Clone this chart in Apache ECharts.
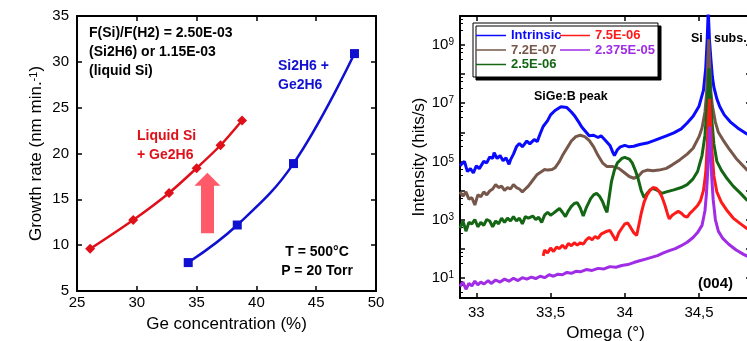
<!DOCTYPE html>
<html>
<head>
<meta charset="utf-8">
<script src="https://cdn.jsdelivr.net/npm/echarts@6/dist/echarts.min.js"></script>
<style>
	html, body { margin: 0; padding: 0; background: #fff; }
	#main { width: 747px; height: 341px; }
</style>
</head>
<body>
<div id="main"></div>
<script>
// left panel: growth rate vs Ge concentration
var liquidGe   = [26.1, 29.7, 32.7, 35.0, 37.0, 38.8];
var liquidRate = [9.6, 12.75, 15.7, 18.4, 20.9, 23.6];
var disilGe    = [34.3, 38.4, 43.1, 48.2];
var disilRate  = [8.1, 12.2, 18.9, 30.9];
var arrowGe    = 35.9;
var arrowFrom  = 11.3;
var arrowTo    = 17.2;

// right panel: XRD scans, [omega (deg), log10(intensity)]
var intrinsicScan = [
	[32.89,4.85],[32.92,5.0],[32.94,4.65],[32.96,4.75],[32.98,4.6],[33.00,4.85],[33.02,4.75],[33.05,5.0],
	[33.07,4.95],[33.09,5.15],[33.11,5.1],[33.12,5.3],[33.14,5.1],[33.16,5.2],[33.18,5.02],[33.20,5.12],
	[33.22,4.9],[33.23,5.05],[33.25,5.25],[33.27,5.5],[33.29,5.62],[33.31,5.5],[33.34,5.7],[33.36,5.6],
	[33.39,5.75],[33.41,5.68],[33.43,5.95],[33.45,6.2],[33.48,6.4],[33.50,6.6],[33.53,6.75],[33.57,6.88],
	[33.61,6.85],[33.64,6.7],[33.66,6.58],[33.69,6.35],[33.71,6.18],[33.74,6.0],[33.76,5.88],[33.79,5.9],
	[33.82,5.82],[33.84,5.88],[33.87,5.72],[33.90,5.55],[33.92,5.3],[33.93,5.2],[33.95,5.4],[33.97,5.5],
	[34.00,5.55],[34.03,5.5],[34.06,5.52],[34.10,5.58],[34.15,5.63],[34.20,5.72],[34.24,5.8],[34.28,5.88],
	[34.33,5.98],[34.38,6.12],[34.42,6.32],[34.46,6.55],[34.50,6.9],[34.53,7.45],[34.545,8.2],[34.555,9.2],
	[34.562,10.2],[34.57,9.2],[34.58,8.5],[34.59,7.9],[34.60,7.55],[34.62,7.15],[34.64,6.88],[34.67,6.6],
	[34.71,6.36],[34.76,6.15],[34.82,5.95],[34.85,5.9]
];
var b72Scan = [
	[32.89,3.95],[32.91,3.8],[32.93,3.95],[32.95,3.7],[32.97,3.75],[32.99,3.5],[33.01,3.85],[33.03,3.78],
	[33.05,3.95],[33.07,3.85],[33.09,3.98],[33.11,4.05],[33.13,4.2],[33.15,4.1],[33.17,4.15],[33.19,4.0],
	[33.21,4.1],[33.23,4.05],[33.25,4.2],[33.27,4.1],[33.29,4.05],[33.31,3.95],[33.33,4.05],[33.35,4.15],
	[33.38,4.35],[33.41,4.55],[33.44,4.65],[33.46,4.72],[33.48,4.7],[33.51,4.72],[33.53,4.78],[33.56,5.0],
	[33.58,5.2],[33.61,5.45],[33.64,5.7],[33.67,5.85],[33.70,5.9],[33.73,5.85],[33.76,5.72],[33.79,5.5],
	[33.82,5.2],[33.85,4.95],[33.88,4.82],[33.92,4.82],[33.96,4.76],[34.00,4.6],[34.03,4.48],[34.06,4.42],
	[34.09,4.48],[34.12,4.65],[34.15,4.7],[34.19,4.68],[34.23,4.7],[34.28,4.76],[34.32,4.88],[34.37,5.05],
	[34.42,5.25],[34.46,5.45],[34.50,5.85],[34.52,6.15],[34.54,6.7],[34.55,7.3],[34.558,8.3],[34.565,9.2],
	[34.572,8.3],[34.58,7.4],[34.59,6.9],[34.61,6.35],[34.63,6.0],[34.66,5.75],[34.70,5.45],[34.75,5.1],
	[34.82,4.72],[34.85,4.6]
];
var b25Scan = [
	[32.89,2.7],[32.91,2.95],[32.93,2.6],[32.95,2.9],[32.97,2.85],[32.99,3.0],[33.01,2.75],[33.03,2.9],
	[33.05,2.8],[33.07,3.0],[33.09,2.95],[33.11,2.75],[33.13,2.95],[33.15,2.85],[33.17,3.05],[33.19,2.9],
	[33.21,3.05],[33.23,2.95],[33.25,3.1],[33.27,2.95],[33.29,3.05],[33.31,2.85],[33.33,3.1],[33.35,3.05],
	[33.38,3.12],[33.40,3.0],[33.42,3.08],[33.44,2.9],[33.46,3.15],[33.48,3.25],[33.50,3.15],[33.52,3.22],
	[33.54,3.3],[33.56,3.38],[33.58,3.25],[33.60,3.1],[33.62,3.3],[33.64,3.45],[33.66,3.55],[33.68,3.58],
	[33.70,3.4],[33.72,3.12],[33.74,3.4],[33.77,3.72],[33.79,3.85],[33.81,3.9],[33.83,3.8],[33.85,3.62],
	[33.87,3.35],[33.88,3.25],[33.89,3.6],[33.91,4.3],[33.93,4.7],[33.95,4.95],[33.98,5.1],[34.00,5.14],
	[34.03,5.08],[34.05,4.95],[34.07,4.7],[34.09,4.4],[34.11,4.0],[34.13,3.75],[34.15,3.9],[34.17,4.02],
	[34.19,4.07],[34.22,4.0],[34.25,3.9],[34.28,3.95],[34.33,4.02],[34.38,4.1],[34.42,4.2],[34.46,4.4],
	[34.49,4.65],[34.52,5.2],[34.54,5.9],[34.55,6.6],[34.56,7.4],[34.568,8.2],[34.575,7.4],[34.585,6.5],
	[34.60,5.6],[34.62,5.0],[34.65,4.7],[34.69,4.4],[34.73,4.15],[34.78,3.9],[34.82,3.68],[34.85,3.6]
];
var b75Scan = [
	[33.45,1.75],[33.46,1.95],[33.48,1.85],[33.50,2.02],[33.52,1.9],[33.54,2.05],[33.56,2.0],[33.58,2.12],
	[33.60,2.0],[33.62,2.18],[33.64,2.1],[33.66,2.2],[33.68,2.12],[33.70,2.2],[33.72,2.15],[33.74,2.3],
	[33.76,2.38],[33.78,2.3],[33.80,2.42],[33.82,2.35],[33.84,2.5],[33.86,2.55],[33.88,2.6],[33.90,2.62],
	[33.92,2.45],[33.94,2.28],[33.96,2.55],[33.98,2.7],[34.00,2.85],[34.02,2.88],[34.04,2.72],[34.06,2.55],
	[34.08,2.45],[34.09,2.7],[34.11,3.2],[34.13,3.6],[34.15,3.85],[34.17,4.0],[34.19,4.1],[34.21,4.08],
	[34.23,3.98],[34.25,3.78],[34.27,3.5],[34.29,3.15],[34.30,3.02],[34.32,3.15],[34.34,3.22],[34.36,3.28],
	[34.38,3.22],[34.40,3.12],[34.42,3.08],[34.44,3.22],[34.46,3.32],[34.49,3.48],[34.51,3.65],[34.53,4.0],
	[34.545,4.6],[34.555,5.5],[34.563,6.5],[34.57,7.15],[34.577,6.4],[34.585,5.5],[34.60,4.5],[34.62,3.95],
	[34.65,3.6],[34.69,3.3],[34.73,3.05],[34.78,2.85],[34.82,2.7],[34.85,2.62]
];
var b2375Scan = [
	[32.89,0.7],[32.91,0.85],[32.93,0.6],[32.95,0.8],[32.97,0.72],[32.99,0.88],[33.01,0.75],[33.03,0.85],
	[33.05,0.78],[33.08,0.9],[33.10,0.8],[33.13,0.92],[33.16,0.85],[33.19,0.95],[33.22,0.88],[33.25,0.98],
	[33.28,0.9],[33.31,1.0],[33.34,0.95],[33.37,1.02],[33.40,0.97],[33.43,1.05],[33.46,1.0],[33.49,1.1],
	[33.52,1.05],[33.55,1.12],[33.58,1.1],[33.61,1.18],[33.64,1.15],[33.67,1.22],[33.70,1.2],[33.74,1.28],
	[33.78,1.25],[33.82,1.32],[33.86,1.3],[33.90,1.38],[33.94,1.36],[33.98,1.42],[34.02,1.45],[34.06,1.52],
	[34.10,1.58],[34.14,1.64],[34.18,1.7],[34.22,1.76],[34.26,1.85],[34.30,1.93],[34.34,2.0],[34.38,2.1],
	[34.42,2.22],[34.46,2.38],[34.49,2.55],[34.52,2.8],[34.54,3.3],[34.55,3.9],[34.56,4.8],[34.567,5.8],
	[34.572,6.2],[34.578,5.5],[34.585,4.5],[34.595,3.7],[34.61,3.0],[34.63,2.6],[34.66,2.35],[34.70,2.15],
	[34.75,1.95],[34.80,1.8],[34.85,1.68]
];
var scanNames  = ['Intrinsic', '7.2E-07', '2.5E-06', '7.5E-06', '2.375E-05'];
var scanColors = ['#0a0aff', '#76574a', '#146614', '#ff1a1a', '#a02ce6'];
var scans      = [intrinsicScan, b72Scan, b25Scan, b75Scan, b2375Scan];

var FONT = 'Liberation Sans, Arial, sans-serif';

function frame(o) {
	var a = {
		type: 'value',
		axisLine: { show: true, onZero: false, lineStyle: { color: '#000', width: 2 } },
		axisTick: { show: true, inside: true, length: 5, lineStyle: { color: '#000', width: 1.5 } },
		axisLabel: { color: '#000', fontSize: 15, fontFamily: FONT },
		splitLine: { show: false },
		nameTextStyle: { color: '#000', fontSize: 17, fontFamily: FONT }
	};
	for (var k in o) a[k] = o[k];
	return a;
}

function logLabel(v) {
	var n = Math.log10(v);
	var r = Math.round(n);
	if (Math.abs(n - r) > 1e-6 || r % 2 === 0) return '';
	return '{b|10}{s|' + r + '}';
}
var logRich = {
	b: { fontSize: 15, fontFamily: FONT, color: '#000' },
	s: { fontSize: 10, fontFamily: FONT, color: '#000', verticalAlign: 'top' }
};

var xrdSeries = scans.map(function (s, i) {
	return {
		name: scanNames[i], type: 'line', xAxisIndex: 2, yAxisIndex: 2,
		symbol: 'none', smooth: false,
		lineStyle: { color: scanColors[i], width: 3 },
		itemStyle: { color: scanColors[i] },
		data: s.map(function (p) { return [p[0], Math.pow(10, p[1])]; })
	};
});

var boldText = function (x, y, txt, size, color, align) {
	return {
		type: 'text', x: x, y: y, z: 10,
		style: {
			text: txt, fill: color, fontSize: size, fontWeight: 'bold', fontFamily: FONT,
			lineHeight: size + 5, align: align || 'left', verticalAlign: 'top'
		}
	};
};

function legendBlock(left, idx) {
	return {
		left: left, top: 29, padding: 0, orient: 'vertical', itemWidth: 30, itemHeight: 1.5, itemGap: 1.5,
		icon: 'rect', selectedMode: false,
		textStyle: { fontSize: 13, fontWeight: 'bold', fontFamily: FONT },
		data: idx.map(function (i) { return { name: scanNames[i], textStyle: { color: scanColors[i] } }; })
	};
}

var chart = echarts.init(document.getElementById('main'));
chart.setOption({
	animation: false,
	grid: [
		{ left: 77, right: 371, top: 16, bottom: 50, outerBoundsMode: 'none' },
		{ left: 460, right: -4, top: 16, bottom: 43, outerBoundsMode: 'none' }
	],
	xAxis: [
		frame({
			gridIndex: 0, min: 25, max: 50, interval: 5, name: 'Ge concentration (%)', nameLocation: 'middle', nameGap: 25,
			axisLabel: { color: '#000', fontSize: 15, fontFamily: FONT, margin: 4 }
		}),
		frame({ gridIndex: 0, position: 'top', min: 25, max: 50, interval: 5, axisLabel: { show: false } }),
		frame({
			gridIndex: 1, min: 32.89, max: 34.85, splitNumber: 4, name: 'Omega (°)', nameLocation: 'middle', nameGap: 25,
			axisLabel: { color: '#000', fontSize: 15, fontFamily: FONT, margin: 7, showMinLabel: false, showMaxLabel: false,
				formatter: function (v) { return String(v).replace('.', ','); } }
		}),
		frame({ gridIndex: 1, position: 'top', min: 32.89, max: 34.85, splitNumber: 4, axisLabel: { show: false } })
	],
	yAxis: [
		frame({
			gridIndex: 0, min: 5, max: 35, interval: 5, name: 'Growth rate (nm min.{s|-1})', nameLocation: 'middle', nameGap: 32,
			nameTextStyle: { color: '#000', fontSize: 17, fontFamily: FONT, rich: { s: { fontSize: 11, fontFamily: FONT, color: '#000', verticalAlign: 'top' } } }
		}),
		frame({ gridIndex: 0, position: 'right', min: 5, max: 35, interval: 5, axisLabel: { show: false } }),
		frame({
			gridIndex: 1, type: 'log', logBase: 10, min: 2, max: 1e10, name: 'Intensity (hits/s)', nameLocation: 'middle', nameGap: 30,
			axisLabel: { formatter: logLabel, rich: logRich, margin: 6 },
			minorTick: { show: true, splitNumber: 4, length: 3, lineStyle: { color: '#000', width: 1 } }
		}),
		frame({ gridIndex: 1, type: 'log', logBase: 10, position: 'right', min: 2, max: 1e10, axisLabel: { show: false } })
	],
	legend: [legendBlock(476, [0, 1, 2]), legendBlock(560, [3, 4])],
	graphic: [
		{
			type: 'rect', shape: { x: 473, y: 23, width: 185, height: 54 }, z: 1,
			style: { fill: '#fff', stroke: '#000', lineWidth: 1, shadowColor: '#000', shadowOffsetX: 3, shadowOffsetY: 3, shadowBlur: 0 }
		},
		boldText(89, 24, 'F(Si)/F(H2) = 2.50E-03\n(Si2H6) or 1.15E-03\n(liquid Si)', 14, '#000'),
		boldText(278, 57, 'Si2H6 +\nGe2H6', 14, '#1010d0'),
		boldText(137, 127, 'Liquid Si\n+ Ge2H6', 14, '#e0101a'),
		boldText(317, 243, 'T = 500°C\nP = 20 Torr', 14, '#000', 'center'),
		boldText(534, 88, 'SiGe:B peak', 12.5, '#000'),
		boldText(691, 30, 'Si', 12.5, '#000'),
		boldText(714, 30, 'subs.', 12.5, '#000'),
		boldText(698, 274, '(004)', 15, '#000')
	],
	series: [
		{
			name: 'Liquid Si + Ge2H6', type: 'line', xAxisIndex: 0, yAxisIndex: 0, smooth: 0.3,
			symbol: 'diamond', symbolSize: 10,
			lineStyle: { color: '#e0101a', width: 2.5 }, itemStyle: { color: '#e0101a' },
			data: liquidGe.map(function (g, i) { return [g, liquidRate[i]]; }),
			markLine: {
				silent: true, symbol: ['none', 'triangle'], symbolSize: [26, 13],
				label: { show: false },
				lineStyle: { color: '#ff5a6a', width: 13, type: 'solid' },
				itemStyle: { color: '#ff5a6a' },
				data: [[{ coord: [arrowGe, arrowFrom] }, { coord: [arrowGe, arrowTo] }]]
			}
		},
		{
			name: 'Si2H6 + Ge2H6', type: 'line', xAxisIndex: 0, yAxisIndex: 0, smooth: 0.4,
			symbol: 'rect', symbolSize: 9,
			lineStyle: { color: '#1010d0', width: 2.5 }, itemStyle: { color: '#1010d0' },
			data: disilGe.map(function (g, i) { return [g, disilRate[i]]; })
		}
	].concat(xrdSeries)
});
</script>
</body>
</html>
